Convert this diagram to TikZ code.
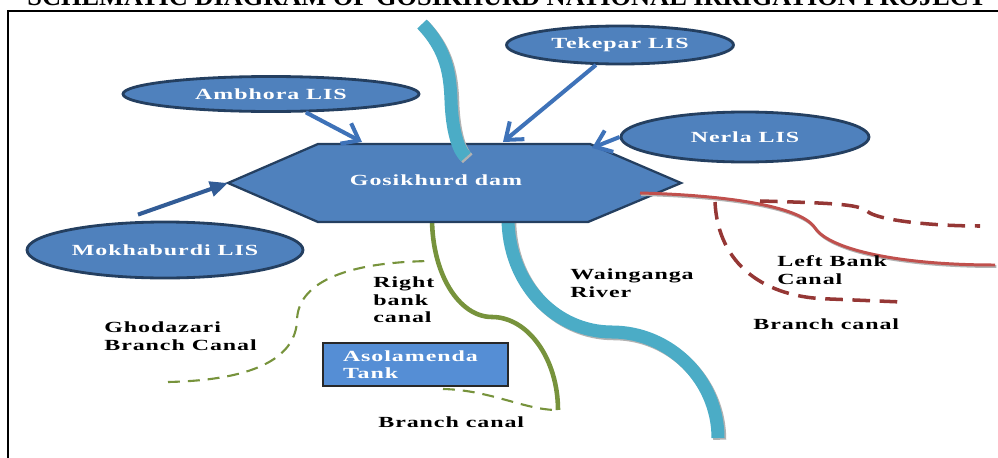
\documentclass[tikz,border=0pt]{standalone}
\usepackage{fontspec}
\setmainfont{Liberation Serif}
\newfontfamily\widefont[FakeStretch=1.55,LetterSpace=6]{Liberation Serif}
\usetikzlibrary{arrows.meta, shapes.geometric}

\definecolor{lisblue}{RGB}{79,129,189}
\definecolor{lisedge}{RGB}{36,63,96}
\definecolor{arrblue}{RGB}{62,114,184}
\definecolor{arrdark}{RGB}{50,92,150}
\definecolor{rivercol}{RGB}{75,172,198}
\definecolor{canalgreen}{RGB}{119,147,60}
\definecolor{canalred}{RGB}{192,80,77}
\definecolor{branchred}{RGB}{149,55,53}
\definecolor{tankblue}{RGB}{85,142,213}

\begin{document}
\begin{tikzpicture}[x=0.2mm, y=-0.2mm,
		lis/.style={ellipse, draw=lisedge, line width=1.6pt, fill=lisblue, inner sep=0pt, text=white, font=\widefont\bfseries\fontsize{8.8}{10}\selectfont},
		lbl/.style={anchor=west, align=left, inner sep=0pt, font=\widefont\bfseries\fontsize{8.8}{10}\selectfont},
		feed/.style={-{Straight Barb[length=3mm, width=4.6mm]}, draw=arrblue, line width=2.3pt},
		river/.style={draw=rivercol, line width=7.4pt, preaction={draw=gray!60, line width=7.4pt, transform canvas={xshift=0.35mm, yshift=-0.35mm}}},
		rbc/.style={draw=canalgreen, line width=2.6pt},
		gbranch/.style={draw=canalgreen, line width=1.2pt, dash pattern=on 6.8pt off 4.5pt},
		lbc/.style={draw=canalred, line width=1.7pt, preaction={draw=gray!60, line width=1.7pt, transform canvas={xshift=0.25mm, yshift=-0.3mm}}},
		rbranch/.style={draw=branchred, line width=2pt, dash pattern=on 10pt off 5.5pt}]
		
		\useasboundingbox (0,0) rectangle (998,458);
		\clip (0,0) rectangle (998,458);
		
		% title and frame
		\node[anchor=base west, inner sep=0pt, font=\bfseries\fontsize{15}{17}\selectfont] (title) at (27,5) {SCHEMATIC DIAGRAM OF GOSIKHURD NATIONAL IRRIGATION PROJECT};
		\draw[line width=1.5pt] (8,458) -- (8,11) -- (998,11);
		
		% river and canals below the dam
		\draw[river] (508,218) .. controls (508,283) and (555,332) .. (612,332) .. controls (670,332) and (718,380) .. (718,438);
		\draw[rbc] (432,218) .. controls (432,274) and (459,317) .. (492,317) .. controls (528,317) and (558,359) .. (558,410);
		\draw[gbranch] (168,382) .. controls (260,380) and (296,355) .. (297,320) .. controls (298,285) and (340,262) .. (432,261);
		\draw[gbranch] (443,389) .. controls (490,390) and (525,410) .. (557,410);
		
		% dam
		\coordinate (damW) at (228,183);
		\coordinate (damNW) at (318,144);
		\coordinate (damNE) at (590,144);
		\coordinate (damE) at (681,183);
		\coordinate (damSE) at (588,222);
		\coordinate (damSW) at (318,222);
		\draw[draw=lisedge, line width=1.3pt, fill=lisblue] (damW) -- (damNW) -- (damNE) -- (damE) -- (damSE) -- (damSW) -- cycle;
		\node[text=white, inner sep=0pt, font=\widefont\bfseries\fontsize{8.8}{10}\selectfont] (damlbl) at (436,180) {Gosikhurd dam};
		
		\draw[river] (422,24) .. controls (447,50) and (450,75) .. (451,100) .. controls (452,130) and (458,150) .. (466,157);
		
		% left bank side
		\draw[lbc] (640,193) .. controls (720,195) and (800,205) .. (815,228) .. controls (830,250) and (900,265) .. (995,265);
		\draw[rbranch] (760,201) .. controls (830,203) and (858,204) .. (867,211) .. controls (876,220) and (930,226) .. (980,226);
		\draw[rbranch] (715,202) .. controls (718,265) and (765,298) .. (830,299) -- (902,302);
		
		% lift irrigation schemes
		\node[lis, minimum width=45.4mm, minimum height=7.6mm] (tekepar) at (620,45) {Tekepar LIS};
		\node[lis, minimum width=59.2mm, minimum height=7mm] (ambhora) at (271,94) {Ambhora LIS};
		\node[lis, minimum width=49.6mm, minimum height=10mm] (nerla) at (745,137) {Nerla LIS};
		\node[lis, minimum width=55.2mm, minimum height=11.2mm] (mokha) at (165,250) {Mokhaburdi LIS};
		
		\coordinate (inA) at (362,142);
		\coordinate (inT) at (503,142);
		\coordinate (inN) at (592,148);
		\draw[feed] (ambhora) -- (inA);
		\draw[feed] (tekepar) -- (inT);
		\draw[feed] (nerla.west) -- (inN);
		\draw[draw=arrdark, line width=2.3pt, -{Triangle[length=3.6mm, width=3mm]}] ([shift={(-27,-6)}]mokha.north) -- (damW);
		
		% tank
		\node[draw={rgb,255:red,40;green,40;blue,40}, line width=0.9pt, fill=tankblue, minimum width=37mm, minimum height=8.6mm, text width=29mm, align=left, inner sep=0pt, text=white, font=\widefont\bfseries\fontsize{8.8}{10}\selectfont] (tank) at (415.5,364.5) {Asolamenda\\Tank};
		
		% labels
		\node[lbl] (rbclbl) at (373,300) {Right\\bank\\canal};
		\node[lbl] (ghodlbl) at (104,336) {Ghodazari\\Branch Canal};
		\node[lbl] (wainlbl) at (570,283) {Wainganga\\River};
		\node[lbl] (lbclbl) at (777,270) {Left Bank\\Canal};
		\node[lbl] (rbranchlbl) at (753,324) {Branch canal};
		\node[lbl] (gbranchlbl) at (378,422) {Branch canal};
	\end{tikzpicture}
\end{document}
